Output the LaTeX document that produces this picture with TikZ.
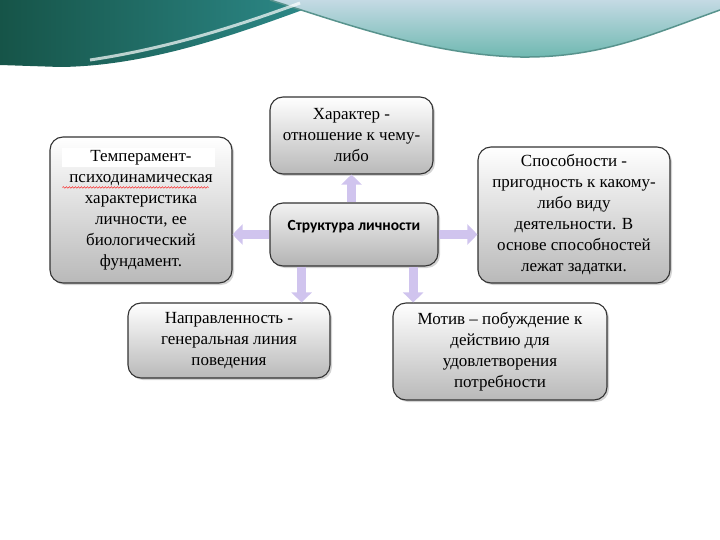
\documentclass[tikz,border=0pt]{standalone}
\usepackage{fontspec}
\setmainfont{Liberation Serif}
\newfontfamily\titlefont{Carlito}
\usetikzlibrary{arrows.meta,shadows,calc,decorations.pathmorphing}
\definecolor{lilac}{RGB}{208,196,238}
\definecolor{lilacedge}{RGB}{170,152,212}
\definecolor{deepteal}{RGB}{22,84,72}
\definecolor{midteal}{RGB}{46,140,140}
\definecolor{paleteal}{RGB}{196,218,228}
\definecolor{seateal}{RGB}{110,184,176}

\tikzset{
  infobox/.style={draw=black!80, line width=1.1pt, rounded corners=13pt,
    top color=white, bottom color=gray!55,
    drop shadow={shadow xshift=2pt, shadow yshift=-2pt, opacity=.35},
    align=center, font=\fontsize{17}{21}\selectfont, inner sep=2pt},
  link/.style={lilac, line width=9pt, -{Triangle[width=20pt,length=10pt,fill=lilac]}},
}

\begin{document}
\begin{tikzpicture}[x=1pt,y=-1pt]
        \useasboundingbox (0,0) rectangle (720,540);
        % Banner
        \shade[left color=deepteal, right color=midteal]
          (0,0) -- (330,0) .. controls (260,25) and (160,66) .. (60,67) -- (0,65) -- cycle;
        \shade[top color=paleteal, bottom color=seateal]
          (270,0) -- (720,0) -- (720,10) .. controls (650,35) and (600,58) .. (520,57)
          .. controls (430,55) and (340,22) .. (270,0) -- cycle;
        \draw[seateal!80!black, line width=1.5pt]
          (720,10) .. controls (650,35) and (600,58) .. (520,57) .. controls (430,55) and (340,22) .. (270,0);
        \draw[white, line width=3pt, opacity=.7] (90,60) .. controls (170,48) and (240,25) .. (300,3);
        % Boxes
        \node[infobox, minimum width=163pt, minimum height=77pt] (char) at (351.5,135.5)
          {Характер -\\отношение к чему-\\либо};
        \node[infobox, minimum width=182pt, minimum height=146pt,
          path picture={\fill[white, sharp corners] ($(path picture bounding box.north west)+(12,11)$)
            rectangle ($(path picture bounding box.north east)+(-17,30)$);}] (temp) at (141,210)
          {Темперамент-\\психодинамическая\\характеристика\\личности, ее\\биологический\\фундамент.};
        \node[infobox, minimum width=168pt, minimum height=63pt, top color=gray!10, bottom color=gray!60,
          font=\titlefont\bfseries\fontsize{15.5}{18}\selectfont, text height=12pt, text depth=21pt]
          (core) at (354,234.5) {Структура личности};
        \node[infobox, minimum width=192pt, minimum height=136pt] (abil) at (574,215)
          {Способности -\\пригодность к какому-\\либо виду\\деятельности. В\\основе способностей\\лежат задатки.};
        \node[infobox, minimum width=202pt, minimum height=75pt] (dir) at (229,340.5)
          {Направленность -\\генеральная линия\\поведения};
        \node[infobox, minimum width=214pt, minimum height=97pt] (mot) at (500,351.5)
          {Мотив – побуждение к\\действию для\\удовлетворения\\потребности};
        % Spelling mark
        \draw[red, decorate, decoration={snake, amplitude=.8pt, segment length=3pt}]
          ($(temp.north west)+(13,51)$) -- ($(temp.north east)+(-24,51)$);
        % Arrows
        \coordinate (d1) at ($(core.south west)!.19!(core.south east)$);
        \coordinate (d2) at ($(core.south west)!.85!(core.south east)$);
        \draw[link] (char.south |- core.north) -- (char.south);
        \draw[link] (core.west) -- (core.west -| temp.east);
        \draw[link] (core.east) -- (core.east -| abil.west);
        \draw[link] (d1) -- (d1 |- dir.north);
        \draw[link] (d2) -- (d2 |- mot.north);
      \end{tikzpicture}
\end{document}
